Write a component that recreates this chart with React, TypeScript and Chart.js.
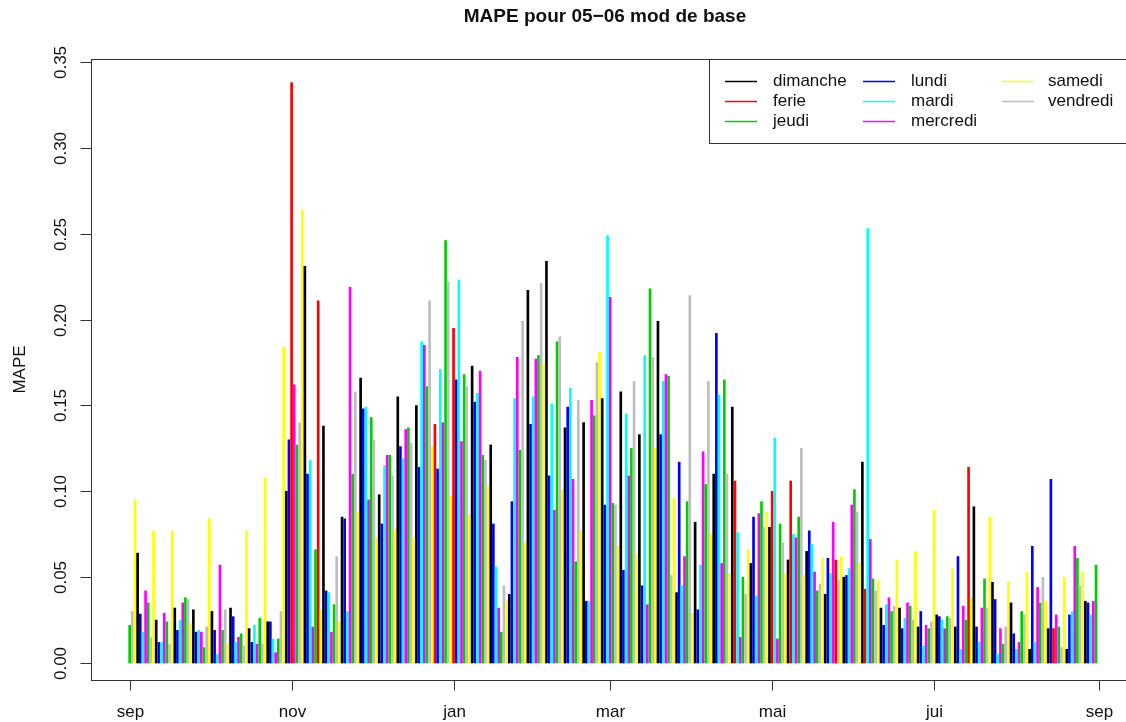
import React, { useEffect, useRef } from "react";
import { Chart, registerables } from "chart.js";

Chart.register(...registerables);

// Daily MAPE values, 1 Sep 2005 -> 31 Aug 2006
const sepValues = [0.022, 0.030, 0.095, 0.064, 0.0285, 0.018, 0.042, 0.035, 0.015, 0.077, 0.025, 0.012, 0.012, 0.029, 0.024, 0.011, 0.077, 0.032, 0.019, 0.025, 0.035, 0.038, 0.037, 0.023, 0.031, 0.018, 0.019, 0.018, 0.009, 0.021];
const octValues = [0.084, 0.030, 0.019, 0.005, 0.057, 0.019, 0.031, 0.011, 0.032, 0.027, 0.012, 0.015, 0.017, 0.010, 0.077, 0.020, 0.012, 0.022, 0.011, 0.026, 0.011, 0.108, 0.024, 0.024, 0.014, 0.006, 0.014, 0.030, 0.184, 0.100, 0.130];
const novValues = [0.338, 0.162, 0.127, 0.140, 0.264, 0.231, 0.110, 0.118, 0.021, 0.066, 0.211, 0.031, 0.138, 0.042, 0.041, 0.018, 0.034, 0.062, 0.024, 0.085, 0.084, 0.030, 0.219, 0.110, 0.158, 0.088, 0.166, 0.148, 0.149, 0.095];
const decValues = [0.143, 0.130, 0.073, 0.098, 0.081, 0.115, 0.121, 0.121, 0.109, 0.078, 0.155, 0.126, 0.119, 0.136, 0.137, 0.128, 0.073, 0.150, 0.114, 0.187, 0.185, 0.161, 0.211, 0.126, 0.139, 0.113, 0.171, 0.140, 0.246, 0.222, 0.097];
const janValues = [0.195, 0.165, 0.223, 0.129, 0.168, 0.161, 0.086, 0.173, 0.152, 0.157, 0.170, 0.121, 0.118, 0.103, 0.127, 0.081, 0.056, 0.032, 0.018, 0.045, 0.036, 0.040, 0.094, 0.154, 0.178, 0.124, 0.199, 0.070, 0.217, 0.139, 0.155];
const febValues = [0.177, 0.179, 0.221, 0.174, 0.234, 0.109, 0.151, 0.089, 0.187, 0.190, 0.101, 0.137, 0.149, 0.160, 0.107, 0.059, 0.153, 0.077, 0.140, 0.036, 0.036, 0.153, 0.144, 0.175, 0.181, 0.154, 0.092, 0.249];
const marValues = [0.213, 0.093, 0.092, 0.068, 0.158, 0.054, 0.145, 0.109, 0.125, 0.164, 0.063, 0.133, 0.045, 0.179, 0.034, 0.218, 0.178, 0.125, 0.199, 0.133, 0.164, 0.168, 0.167, 0.051, 0.096, 0.041, 0.117, 0.045, 0.062, 0.094, 0.214];
const aprValues = [0.029, 0.082, 0.031, 0.057, 0.123, 0.104, 0.164, 0.075, 0.110, 0.192, 0.156, 0.058, 0.165, 0.110, 0.052, 0.149, 0.106, 0.076, 0.015, 0.050, 0.040, 0.066, 0.058, 0.085, 0.039, 0.087, 0.094, 0.079, 0.088, 0.079];
const mayValues = [0.100, 0.131, 0.014, 0.081, 0.070, 0.052, 0.060, 0.106, 0.075, 0.073, 0.085, 0.125, 0.051, 0.065, 0.077, 0.069, 0.053, 0.042, 0.046, 0.061, 0.040, 0.061, 0.052, 0.082, 0.060, 0.048, 0.062, 0.050, 0.051, 0.055, 0.092];
const junValues = [0.101, 0.088, 0.058, 0.117, 0.043, 0.253, 0.072, 0.049, 0.042, 0.048, 0.032, 0.022, 0.034, 0.038, 0.030, 0.033, 0.060, 0.032, 0.020, 0.026, 0.035, 0.033, 0.025, 0.065, 0.021, 0.030, 0.010, 0.022, 0.020, 0.024];
const julValues = [0.089, 0.028, 0.027, 0.025, 0.020, 0.027, 0.026, 0.055, 0.021, 0.062, 0.008, 0.033, 0.025, 0.114, 0.038, 0.091, 0.021, 0.012, 0.032, 0.049, 0.032, 0.085, 0.047, 0.037, 0.005, 0.020, 0.011, 0.021, 0.047, 0.035, 0.017];
const augValues = [0.008, 0.012, 0.030, 0.028, 0.053, 0.008, 0.068, 0.012, 0.044, 0.035, 0.050, 0.036, 0.020, 0.107, 0.020, 0.028, 0.021, 0.009, 0.050, 0.008, 0.028, 0.030, 0.068, 0.061, 0.045, 0.053, 0.036, 0.035, 0.028, 0.036, 0.057];

const monthSeries = [sepValues, octValues, novValues, decValues, janValues, febValues, marValues, aprValues, mayValues, junValues, julValues, augValues];

const startDate = [2005, 8, 1]; // 1 Sep 2005 (month is 0-based)
const holidays = ["2005-11-01", "2005-11-11", "2005-12-25", "2006-01-01", "2006-04-17", "2006-05-01", "2006-05-08", "2006-05-25", "2006-06-05", "2006-07-14", "2006-08-15"];

const xTickDates = ["2005-09-01", "2005-11-01", "2006-01-01", "2006-03-01", "2006-05-01", "2006-07-01", "2006-09-01"];
const xTickLabels = ["sep", "nov", "jan", "mar", "mai", "jui", "sep"];
const yTicks = [0, 0.05, 0.1, 0.15, 0.2, 0.25, 0.3, 0.35];
const yTickLabels = ["0.00", "0.05", "0.10", "0.15", "0.20", "0.25", "0.30", "0.35"];

const legendLabels = ["dimanche", "ferie", "jeudi", "lundi", "mardi", "mercredi", "samedi", "vendredi"];
const legendColors = ["#000000", "#FF0000", "#00CD00", "#0000FF", "#00FFFF", "#FF00FF", "#FFFF00", "#BEBEBE"];
const weekdayNames = ["dimanche", "lundi", "mardi", "mercredi", "jeudi", "vendredi", "samedi"];

const titleText = "MAPE pour 05\u221206 mod de base";
const yAxisTitle = "MAPE";

const FONT = '"Liberation Sans", Arial, Helvetica, sans-serif';
const START_MS = Date.UTC(startDate[0], startDate[1], startDate[2]);

function dayIndex(iso: string): number {
  const [y, m, d] = iso.split("-").map(Number);
  return Math.round((Date.UTC(y, m - 1, d) - START_MS) / 86400000);
}

function buildData() {
  const values = monthSeries.flat();
  const points = values.map((v, i) => ({ x: i, y: v }));
  const colors = values.map((_, i) => {
    const dt = new Date(START_MS + i * 86400000);
    const iso = dt.toISOString().slice(0, 10);
    const type = holidays.includes(iso) ? "ferie" : weekdayNames[dt.getUTCDay()];
    return legendColors[legendLabels.indexOf(type)];
  });
  return { points, colors };
}

const rPlotPlugin = {
  id: "rPlot",
  afterDraw(chart: any) {
    const { ctx, chartArea: ca, scales } = chart;
    const xs = scales.x;
    const ys = scales.y;
    const left = Math.round(ca.left) + 0.5;
    const top = Math.round(ca.top) + 0.5;
    const bottom = Math.round(ca.bottom) + 0.5;
    ctx.save();
    ctx.strokeStyle = "#333";
    ctx.lineWidth = 1;
    // plot box (right side lies beyond the canvas)
    ctx.strokeRect(left, top, chart.width + 20 - left, bottom - top);

    ctx.fillStyle = "#111";
    ctx.font = `17px ${FONT}`;
    // y axis ticks and rotated labels
    yTicks.forEach((t, i) => {
      const py = Math.round(ys.getPixelForValue(t)) + 0.5;
      ctx.beginPath();
      ctx.moveTo(left - 11, py);
      ctx.lineTo(left, py);
      ctx.stroke();
      ctx.save();
      ctx.translate(left - 30, py);
      ctx.rotate(-Math.PI / 2);
      ctx.textAlign = "center";
      ctx.textBaseline = "middle";
      ctx.fillText(yTickLabels[i], 0, 0);
      ctx.restore();
    });
    // x axis ticks and labels
    xTickDates.forEach((d, i) => {
      const px = Math.round(xs.getPixelForValue(dayIndex(d))) + 0.5;
      ctx.beginPath();
      ctx.moveTo(px, bottom);
      ctx.lineTo(px, bottom + 10);
      ctx.stroke();
      ctx.textAlign = "center";
      ctx.textBaseline = "middle";
      ctx.fillText(xTickLabels[i], px, bottom + 32);
    });
    // y axis title
    ctx.save();
    ctx.translate(20, (ca.top + ca.bottom) / 2);
    ctx.rotate(-Math.PI / 2);
    ctx.textAlign = "center";
    ctx.textBaseline = "middle";
    ctx.fillText(yAxisTitle, 0, 0);
    ctx.restore();
    // title
    ctx.font = `bold 19px ${FONT}`;
    ctx.textAlign = "center";
    ctx.textBaseline = "middle";
    ctx.fillText(titleText, 605, 17);

    // legend
    const lx = 709.5;
    const lbottom = 143.5;
    ctx.fillStyle = "#ffffff";
    ctx.fillRect(lx, top, chart.width - lx + 20, lbottom - top);
    ctx.strokeStyle = "#333";
    ctx.strokeRect(lx, top, chart.width - lx + 20, lbottom - top);
    const colLine = [725, 863, 1002];
    const colText = [773, 911, 1048];
    const rowY = [81.5, 101.5, 121.5];
    ctx.font = `17px ${FONT}`;
    ctx.textAlign = "left";
    ctx.textBaseline = "middle";
    legendLabels.forEach((lab, i) => {
      const c = Math.floor(i / 3);
      const r = i % 3;
      ctx.strokeStyle = legendColors[i];
      ctx.lineWidth = 1.5;
      ctx.beginPath();
      ctx.moveTo(colLine[c], rowY[r]);
      ctx.lineTo(colLine[c] + 32, rowY[r]);
      ctx.stroke();
      ctx.fillStyle = "#111";
      ctx.fillText(lab, colText[c], rowY[r]);
    });
    ctx.restore();
  },
};

export default function App() {
  const canvasRef = useRef<HTMLCanvasElement | null>(null);

  useEffect(() => {
    if (!canvasRef.current) return;
    const { points, colors } = buildData();
    const chart = new Chart(canvasRef.current, {
      type: "bar",
      data: {
        datasets: [
          {
            data: points as any,
            backgroundColor: colors,
            borderWidth: 0,
            barThickness: 2,
          },
        ],
      },
      options: {
        responsive: false,
        animation: false,
        devicePixelRatio: 1,
        events: [],
        layout: { padding: { left: 91, top: 59, right: 0, bottom: 42 } },
        plugins: {
          legend: { display: false },
          tooltip: { enabled: false },
          title: { display: false },
        },
        scales: {
          x: { type: "linear", min: -14.56, max: 375.3, offset: false, display: false },
          y: { type: "linear", min: -0.0099, max: 0.3518, display: false },
        },
      },
      plugins: [rPlotPlugin],
    });
    return () => chart.destroy();
  }, []);

  return (
    <div style={{ position: "absolute", left: 0, top: 0, width: 1126, height: 722, background: "#fff" }}>
      <canvas ref={canvasRef} width={1126} height={722} style={{ display: "block" }} />
    </div>
  );
}
